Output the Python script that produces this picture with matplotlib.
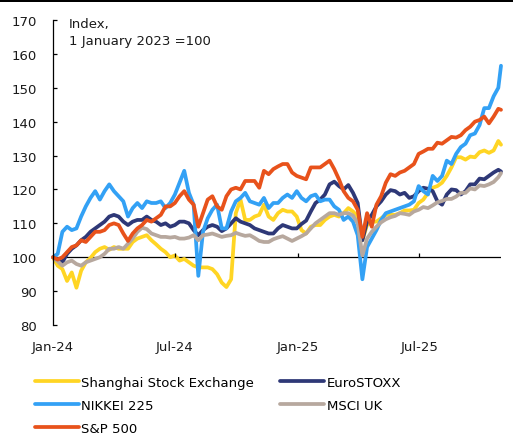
import matplotlib
matplotlib.use('Agg')
import matplotlib.pyplot as plt
from matplotlib.patches import Rectangle
import pandas as pd

# ---- data (weekly readings, index level) ----
dates = pd.date_range('2024-01-01', '2025-10-27', freq='W-MON').append(pd.DatetimeIndex(['2025-10-31']))

shanghai = [100, 97.5, 96.5, 93, 95.5, 91, 96, 98.5, 99.8, 101.5, 102.5, 103, 102.2, 103, 102.5, 102.5,
            102.5, 104.5, 105.5, 106, 106.5, 105, 103.8, 102.5, 101.5, 100, 100.5, 99, 99.5, 98.5, 97.5,
            97, 97, 97, 96.5, 95, 92.5, 91.2, 93.5, 113, 117, 111, 111, 112, 112.5, 115.5, 112, 111, 113,
            114, 113.5, 113.5, 112, 108, 107, 109, 109.5, 109.5, 111, 112, 112.5, 112, 113, 114.5, 113.5,
            112, 105, 109.5, 110.5, 110.5, 111.5, 112.5, 112.5, 112.5, 113, 113.8, 113.8, 114, 116, 117,
            119, 120.5, 121, 122, 124, 126.5, 129.5, 129.5, 128.8, 129.7, 129.5, 131, 131.5, 130.8, 131.5,
            134.3, 133.2]

eurostoxx = [100, 99.5, 98.5, 101, 102.5, 103.5, 105, 106, 107.5, 108.5, 109.5, 110.5, 112, 112.5, 112,
             110.5, 109.5, 110.5, 111, 111, 112, 111, 110.5, 109.5, 110, 109, 109.5, 110.5, 110.5, 110,
             108, 106.5, 108, 109, 109.5, 109, 107.7, 108.5, 110, 111.5, 110.5, 110, 109.5, 108.5, 108,
             107.5, 107, 107, 108.5, 109.5, 109, 108.5, 108.5, 109.8, 110.8, 113.5, 116, 117, 118.5, 121.5,
             122.3, 121, 120, 121.3, 119, 116, 105, 110.5, 112.5, 115, 116.5, 118.5, 119.8, 119.5, 118.5,
             119, 117.5, 118, 119.5, 120.5, 120.2, 119.5, 116.5, 115.5, 118.5, 120, 119.8, 118.5, 119.5,
             121.5, 121.5, 123.2, 123, 124, 125, 125.8, 125.3]

nikkei = [100, 101, 107.5, 109, 108, 108.5, 112, 115, 117.5, 119.5, 117, 119.5, 121.5, 119.5, 118, 116.5,
          112, 114.5, 116, 114.5, 116.5, 116, 116, 116.5, 114.5, 116, 118.5, 122, 125.5, 119, 115.5, 94.5,
          107.5, 111.5, 114, 115.5, 108.5, 108.5, 113.5, 116.5, 117.5, 119, 116.5, 116, 115.5, 117.5,
          114.5, 116, 116, 117.5, 118.5, 117.5, 119.5, 117.5, 116.5, 118, 118.5, 116.5, 117, 117, 115,
          114, 111, 112, 110.5, 106.5, 93.5, 103, 105.5, 108, 111, 113, 113.5, 114, 114.5, 115, 115.5,
          116.5, 121, 119.5, 118.5, 124, 122.5, 124, 128.5, 127.5, 130.5, 132.5, 133.5, 136, 136.5, 139,
          144, 144, 147.5, 150, 156.5]

msci_uk = [100, 98.8, 97.5, 98.5, 99, 98, 97.5, 98.5, 99, 99.5, 100, 101, 102.5, 102.5, 103, 102.5, 104,
           105.5, 107.5, 108.7, 108.3, 107, 106.5, 106, 106, 105.8, 106, 105.5, 105.5, 105.8, 106.5, 105,
           106.5, 106.7, 107, 106.5, 106, 106.3, 106.5, 107.2, 106.7, 106.3, 106.5, 105.7, 104.8, 104.5,
           104.5, 105.3, 105.8, 106.2, 105.5, 104.8, 105.5, 106.2, 107, 108.5, 110, 111, 112, 113, 113,
           112.5, 113, 113, 112.3, 110, 100.5, 105.5, 107.5, 109, 110.3, 111.2, 111.8, 112.2, 113, 112.8,
           112.5, 113.5, 114, 114.8, 114.5, 115.3, 116.2, 116.6, 117.2, 117.2, 117.9, 119, 119, 120.3, 120,
           121.2, 121, 121.5, 122.2, 123.6, 124.8]

sp500 = [100, 99.3, 100, 101.5, 103, 103.5, 105, 104.5, 106, 107.5, 107.5, 108, 109.5, 110, 109.5, 107,
         104.8, 107, 108.5, 109.5, 111, 110.5, 111.5, 112.5, 115, 115, 116, 118, 119.5, 117, 115.5, 109,
         113, 117, 118, 115, 114, 118, 120, 120.5, 120, 122.5, 122.5, 122.5, 120.5, 125.5, 124.5, 126,
         126.8, 127.5, 127.5, 125, 124, 123.5, 123, 126.5, 126.5, 126.5, 127.5, 128.5, 126, 123, 119.5,
         117.5, 116.5, 114, 106, 113, 109, 115.5, 118, 122, 124.5, 124, 125, 125.5, 126.5, 127.5, 130.5,
         131.2, 132, 132, 133.8, 133.5, 134.5, 135.5, 135.3, 136, 137.5, 138.5, 140, 140.5, 141.5, 139.5,
         141.5, 143.8, 143.5]

series_labels = ['Shanghai Stock Exchange', 'EuroSTOXX', 'NIKKEI 225', 'MSCI UK', 'S&P 500']
series_colors = ['#FFD524', '#2E3877', '#33A1F5', '#B7A89E', '#E8521B']

tick_dates = pd.to_datetime(['2024-01-01', '2024-07-01', '2025-01-01', '2025-07-01'])
tick_labels = ['Jan-24', 'Jul-24', 'Jan-25', 'Jul-25']
y_ticks = [80, 90, 100, 110, 120, 130, 140, 150, 160, 170]

# ---- figure ----
W, H = 513, 439
fig = plt.figure(figsize=(W / 100, H / 100), dpi=100)
plt.rcParams['font.family'] = ['DejaVu Sans']
fs = 9.5

ax = fig.add_axes([53 / W, (H - 326) / H, (501 - 53) / W, (326 - 21) / H])

all_series = [shanghai, eurostoxx, nikkei, msci_uk, sp500]
handles = {}
for vals, lab, col in zip(all_series, series_labels, series_colors):
    ln, = ax.plot(dates, vals, color=col, lw=2.7, solid_capstyle='round',
                  solid_joinstyle='round', clip_on=False, label=lab)
    handles[lab] = ln

ymin, ymax = 80, 170
ax.set_ylim(ymin, ymax)
ax.set_xlim(pd.Timestamp('2024-01-01'), pd.Timestamp('2025-10-31'))

ax.axhline(100, color='black', lw=0.9, zorder=1)
y100 = (100 - ymin) / (ymax - ymin)
ax.vlines(tick_dates, y100, y100 + 4 / 305, transform=ax.get_xaxis_transform(),
          color='black', lw=0.9)

for s in ['top', 'right', 'bottom']:
    ax.spines[s].set_visible(False)
ax.spines['left'].set_linewidth(0.9)
ax.spines['left'].set_color('black')

ax.set_yticks(y_ticks)
ax.tick_params(axis='y', direction='in', length=3, width=0.9, pad=11.5,
               labelsize=fs, labelcolor='#1a1a1a')
ax.set_xticks(tick_dates)
ax.set_xticklabels(tick_labels)
ax.tick_params(axis='x', length=0, pad=10.5, labelsize=fs, labelcolor='#1a1a1a')

fig.text(69 / W, 1 - 18 / H, 'Index,\n1 January 2023 =100', ha='left', va='top',
         fontsize=fs, color='#1a1a1a', linespacing=1.45)

# top rule
fig.add_artist(Rectangle((0, 1 - 2.7 / H), 1, 2.7 / H, transform=fig.transFigure,
                         color='black', lw=0))

order = ['Shanghai Stock Exchange', 'NIKKEI 225', 'S&P 500', 'EuroSTOXX', 'MSCI UK']
fig.legend([handles[k] for k in order], order, loc='upper left',
           bbox_to_anchor=(35 / W, 1 - 377 / H), ncol=2, frameon=False,
           borderpad=0, borderaxespad=0, handlelength=3.3, handletextpad=0.2,
           columnspacing=2.0, labelspacing=0.76, fontsize=fs)

fig.savefig('out.png', dpi=100)
